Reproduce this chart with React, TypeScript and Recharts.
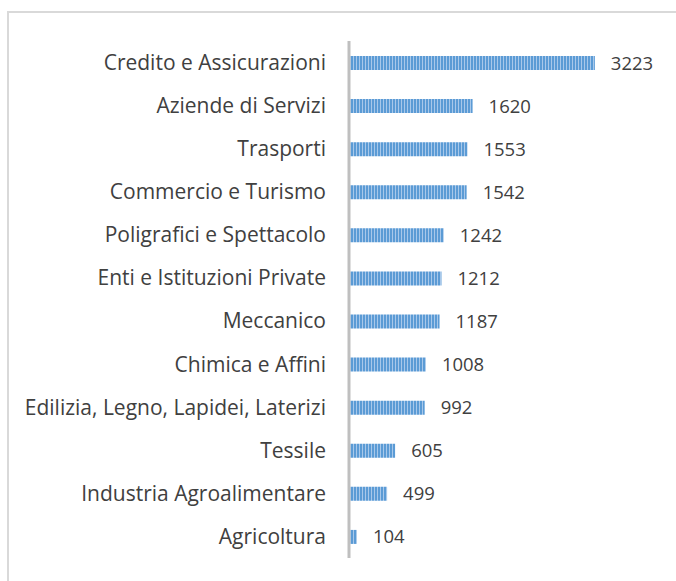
import React from 'react';
import { BarChart, Bar, XAxis, YAxis, LabelList } from 'recharts';

const categories = [
  'Credito e Assicurazioni',
  'Aziende di Servizi',
  'Trasporti',
  'Commercio e Turismo',
  'Poligrafici e Spettacolo',
  'Enti e Istituzioni Private',
  'Meccanico',
  'Chimica e Affini',
  'Edilizia, Legno, Lapidei, Laterizi',
  'Tessile',
  'Industria Agroalimentare',
  'Agricoltura',
];
const values = [3223, 1620, 1553, 1542, 1242, 1212, 1187, 1008, 992, 605, 499, 104];

const data = categories.map((name, i) => ({ name, value: values[i] }));

export default function App() {
  return (
    <div style={{ position: 'fixed', left: 0, top: 0, width: 676, height: 581, overflow: 'hidden', background: '#fff' }}>
      {/* chart frame: only the top and left edges fall inside the picture */}
      <div style={{ position: 'absolute', left: 7, top: 11, width: 669, height: 2, background: '#d9d9d9' }} />
      <div style={{ position: 'absolute', left: 7, top: 11, width: 2, height: 570, background: '#d9d9d9' }} />
      <div style={{ position: 'absolute', left: 0, top: 0 }}>
        <BarChart
          width={676}
          height={581}
          layout="vertical"
          data={data}
          margin={{ top: 41, right: 60, bottom: 23, left: 0 }}
        >
          <defs>
            <pattern id="stripes" width="3" height="4" patternUnits="userSpaceOnUse">
              <rect width="3" height="4" fill="#5b9bd5" />
              <rect x="2" width="1" height="4" fill="#a8c8ea" />
            </pattern>
          </defs>
          <XAxis type="number" domain={[0, 3500]} hide />
          <YAxis
            type="category"
            dataKey="name"
            width={349}
            axisLine={{ stroke: '#bfbfbf', strokeWidth: 3 }}
            tickLine={false}
            tickSize={0}
            tickMargin={23}
            interval={0}
            tick={{ fill: '#404040', fontSize: 21, fontFamily: 'Open Sans' }}
          />
          <Bar dataKey="value" fill="url(#stripes)" barSize={14} isAnimationActive={false}>
            <LabelList
              dataKey="value"
              position="right"
              offset={16}
              fill="#404040"
              fontSize={18.5}
              fontFamily="Open Sans"
            />
          </Bar>
        </BarChart>
      </div>
    </div>
  );
}
